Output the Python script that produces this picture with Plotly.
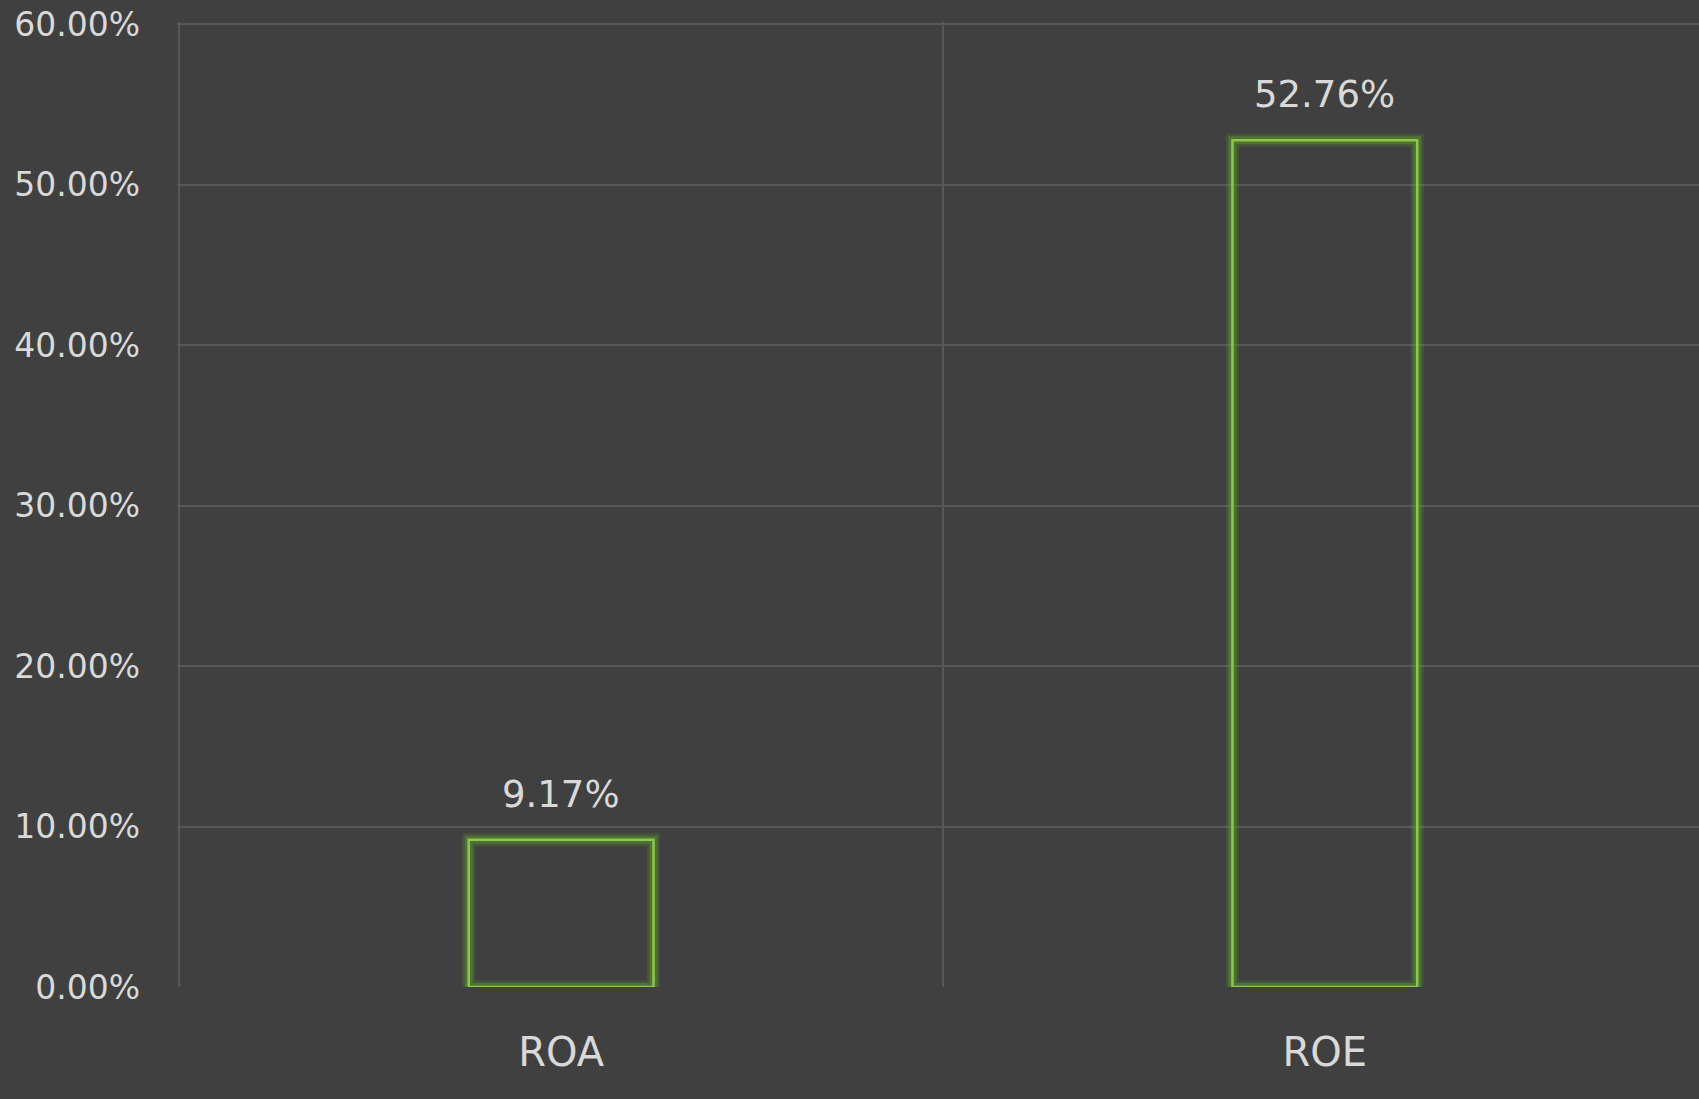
import plotly.graph_objects as go

categories = ["ROA", "ROE"]
values = [9.17, 52.76]
value_labels = ["9.17%", "52.76%"]
y_tickvals = [0, 10, 20, 30, 40, 50, 60]
y_ticktext = ["0.00%", "10.00%", "20.00%", "30.00%", "40.00%", "50.00%", "60.00%"]

BG = "#404040"
GRID = "#585858"
TEXT = "#d9d9d9"
GREEN = "#8cc84b"

fig = go.Figure()

# glow layers
for w, c in [(13, "rgba(100,175,40,0.18)"), (8, "rgba(100,175,40,0.35)")]:
    fig.add_trace(go.Bar(
        x=categories, y=values, width=0.242,
        marker=dict(color="rgba(0,0,0,0)", line=dict(color=c, width=w)),
        hoverinfo="skip", showlegend=False,
    ))

fig.add_trace(go.Bar(
    x=categories, y=values, width=0.242,
    marker=dict(color="rgba(0,0,0,0)", line=dict(color=GREEN, width=2.5)),
    showlegend=False,
))

for cat, v, lab in zip(categories, values, value_labels):
    fig.add_annotation(
        x=cat, y=v, text=lab, showarrow=False, yanchor="bottom",
        yshift=22, font=dict(family="DejaVu Sans", size=37, color=TEXT),
    )

fig.update_layout(
    width=1699, height=1099,
    paper_bgcolor=BG, plot_bgcolor=BG,
    margin=dict(l=177, r=0, t=22, b=112),
    barmode="overlay",
    xaxis=dict(
        type="category", range=[-0.503, 1.49], tickson="boundaries",
        showgrid=True, gridcolor=GRID, gridwidth=2,
        ticks="", zeroline=False, showline=False,
        tickfont=dict(family="DejaVu Sans", size=40, color=TEXT),
        ticklabelstandoff=38,
    ),
    yaxis=dict(
        range=[0, 60.13], tickvals=y_tickvals, ticktext=y_ticktext,
        showgrid=True, gridcolor=GRID, gridwidth=2,
        zeroline=False, showline=False, ticks="",
        tickfont=dict(family="DejaVu Sans", size=33, color=TEXT),
        ticklabelstandoff=36,
    ),
)

fig.write_html(
    "out.html",
    config={"displayModeBar": False},
    post_script="document.body.style.margin='0';document.body.style.overflow='hidden';document.body.style.background='#404040';",
)
